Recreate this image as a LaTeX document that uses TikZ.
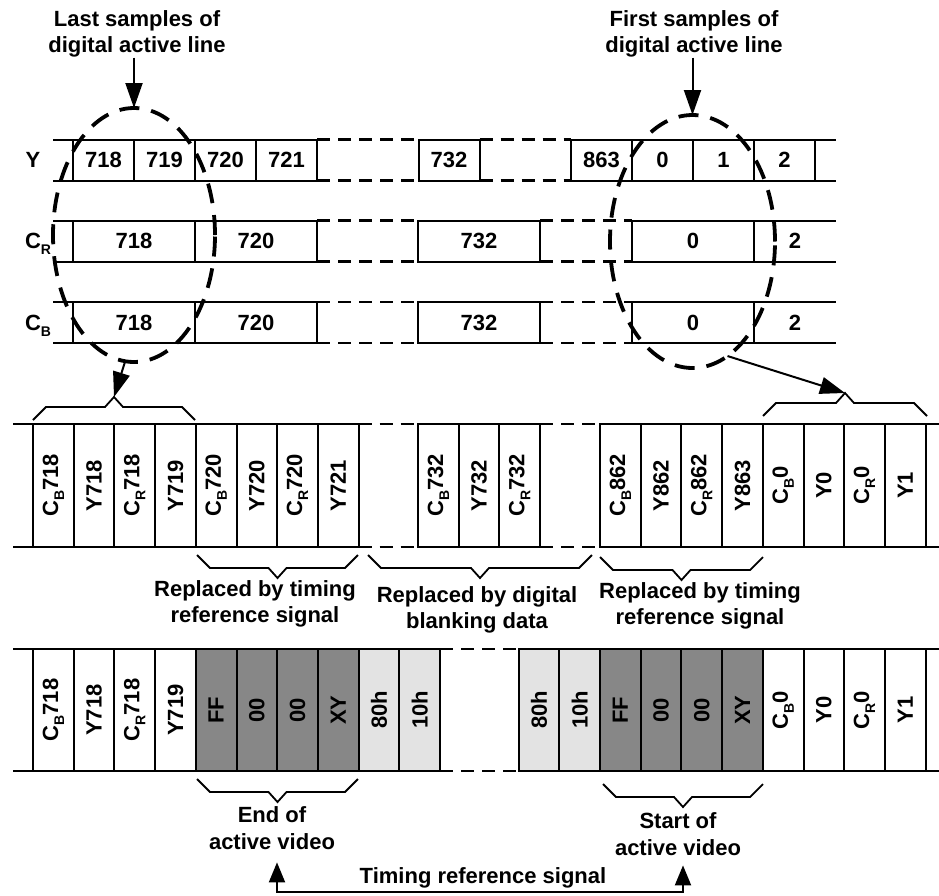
\documentclass[tikz,border=0pt]{standalone}
\usepackage{graphicx}
\usepackage{fontspec}
\setmainfont{Liberation Sans}
\usetikzlibrary{arrows.meta,shapes.geometric}

\definecolor{trsgray}{gray}{0.53}
\definecolor{blankgray}{gray}{0.89}

% lowered index letter (C_B, C_R) and upright-reading cell text
\newcommand{\lowix}[1]{\raisebox{-6pt}{\fontsize{14}{14}\selectfont #1}}
\newcommand{\vlab}[1]{\rotatebox{90}{#1}}

% angular brace: x1, x2, y of the ends, direction (1 down, -1 up), tip name
\newcommand{\rowbrace}[5]{%
  \draw[brace] (#1,#3) -- ({#1+13},{#3+13*(#4)}) -- ({(#1+#2)/2-9},{#3+13*(#4)})
    -- ({(#1+#2)/2},{#3+23*(#4)}) coordinate (#5) -- ({(#1+#2)/2+9},{#3+13*(#4)})
    -- ({#2-13},{#3+13*(#4)}) -- (#2,#3);}

\begin{document}
\begin{tikzpicture}[x=1pt, y=-1pt,
    every node/.style={font=\fontsize{22}{26.6}\selectfont\bfseries, inner sep=0pt, outer sep=0pt},
    cell/.style={draw, line width=2pt, minimum width=61pt, minimum height=41pt},
    widecell/.style={cell, minimum width=122pt},
    vcell/.style={draw, line width=2pt, minimum width=40.7pt, minimum height=123pt},
    scell/.style={vcell, minimum height=122pt},
    trs/.style={scell, fill=trsgray},
    blank/.style={scell, fill=blankgray},
    rail/.style={line width=2pt},
    gap/.style={line width=2.8pt, dash pattern=on 13pt off 8pt},
    ring/.style={ellipse, draw, line width=3.8pt, dash pattern=on 20pt off 12pt},
    lbl/.style={align=center},
    arr/.style={line width=2pt, -{Triangle[length=25pt,width=17pt]}},
    brace/.style={line width=1.8pt}]
  \useasboundingbox (0,0) rectangle (939,895);

  \coordinate (topL) at (53,0);
  \coordinate (topR) at (836,0);
  \coordinate (lowL) at (13,0);
  \coordinate (lowR) at (939,0);

  % Y samples
  \node (ylbl) at (33,160) {Y};
  \node[cell] (y718) at (103.5,160) {718};
  \node[cell] (y719) at (164.5,160) {719};
  \node[cell] (y720) at (225.5,160) {720};
  \node[cell] (y721) at (286.5,160) {721};
  \node[cell] (y732) at (449,160) {732};
  \node[cell] (y863) at (601.5,160) {863};
  \node[cell] (y0) at (662.5,160) {0};
  \node[cell] (y1) at (723.5,160) {1};
  \node[cell] (y2) at (784.5,160) {2};

  % C_R samples
  \node (crlbl) at (38,244) {C\lowix{R}};
  \node[widecell] (cr718) at (134,241) {718};
  \node[widecell] (cr720) at (256,241) {720};
  \node[widecell] (cr732) at (479,241) {732};
  \node[widecell] (cr0) at (693,241) {0};
  \node (cr2) at (795,241) {2};

  % C_B samples
  \node (cblbl) at (38,325.5) {C\lowix{B}};
  \node[widecell] (cb718) at (134,322.5) {718};
  \node[widecell] (cb720) at (256,322.5) {720};
  \node[widecell] (cb732) at (479,322.5) {732};
  \node[widecell] (cb0) at (693,322.5) {0};
  \node (cb2) at (795,322.5) {2};

  \draw[rail] (y718.north west) -- (y718.north west -| topL) (y718.south west) -- (y718.south west -| topL)
              (y2.north east) -- (y2.north east -| topR) (y2.south east) -- (y2.south east -| topR);
  \draw[rail] (cr718.north west) -- (cr718.north west -| topL) (cr718.south west) -- (cr718.south west -| topL)
              (cr0.north east) -- (cr0.north east -| topR) (cr0.south east) -- (cr0.south east -| topR);
  \draw[rail] (cb718.north west) -- (cb718.north west -| topL) (cb718.south west) -- (cb718.south west -| topL)
              (cb0.north east) -- (cb0.north east -| topR) (cb0.south east) -- (cb0.south east -| topR);
  \draw[gap] (y721.north east) -- (y732.north west) (y721.south east) -- (y732.south west)
             (y732.north east) -- (y863.north west) (y732.south east) -- (y863.south west);
  \draw[gap] (cr720.north east) -- (cr732.north west) (cr720.south east) -- (cr732.south west)
             (cr732.north east) -- (cr0.north west) (cr732.south east) -- (cr0.south west);
  \draw[gap] (cb720.north east) -- (cb732.north west) (cb720.south east) -- (cb732.south west)
             (cb732.north east) -- (cb0.north west) (cb732.south east) -- (cb0.south west);

  % multiplexed stream
  \node[vcell] (mcb718) at (53.35,485.5) {\vlab{C\lowix{B}718}};
  \node[vcell] (my718) at (94.05,485.5) {\vlab{Y718}};
  \node[vcell] (mcr718) at (134.75,485.5) {\vlab{C\lowix{R}718}};
  \node[vcell] (my719) at (175.45,485.5) {\vlab{Y719}};
  \node[vcell] (mcb720) at (216.15,485.5) {\vlab{C\lowix{B}720}};
  \node[vcell] (my720) at (256.85,485.5) {\vlab{Y720}};
  \node[vcell] (mcr720) at (297.55,485.5) {\vlab{C\lowix{R}720}};
  \node[vcell] (my721) at (338.25,485.5) {\vlab{Y721}};
  \node[vcell] (mcb732) at (438.35,485.5) {\vlab{C\lowix{B}732}};
  \node[vcell] (my732) at (479.05,485.5) {\vlab{Y732}};
  \node[vcell] (mcr732) at (519.75,485.5) {\vlab{C\lowix{R}732}};
  \node[vcell] (mcb862) at (620.35,485.5) {\vlab{C\lowix{B}862}};
  \node[vcell] (my862) at (661.05,485.5) {\vlab{Y862}};
  \node[vcell] (mcr862) at (701.75,485.5) {\vlab{C\lowix{R}862}};
  \node[vcell] (my863) at (742.45,485.5) {\vlab{Y863}};
  \node[vcell] (mcb0) at (783.15,485.5) {\vlab{C\lowix{B}0}};
  \node[vcell] (my0) at (823.85,485.5) {\vlab{Y0}};
  \node[vcell] (mcr0) at (864.55,485.5) {\vlab{C\lowix{R}0}};
  \node[vcell] (my1) at (905.25,485.5) {\vlab{Y1}};

  \draw[rail] (mcb718.north west) -- (mcb718.north west -| lowL) (mcb718.south west) -- (mcb718.south west -| lowL)
              (my1.north east) -- (my1.north east -| lowR) (my1.south east) -- (my1.south east -| lowR);
  \draw[gap] (my721.north east) -- (mcb732.north west) (my721.south east) -- (mcb732.south west)
             (mcr732.north east) -- (mcb862.north west) (mcr732.south east) -- (mcb862.south west);

  % stream with timing reference and blanking words
  \node[scell] (scb718) at (53.35,710) {\vlab{C\lowix{B}718}};
  \node[scell] (sy718) at (94.05,710) {\vlab{Y718}};
  \node[scell] (scr718) at (134.75,710) {\vlab{C\lowix{R}718}};
  \node[scell] (sy719) at (175.45,710) {\vlab{Y719}};
  \node[trs] (sffa) at (216.15,710) {\vlab{FF}};
  \node[trs] (szza) at (256.85,710) {\vlab{00}};
  \node[trs] (szzb) at (297.55,710) {\vlab{00}};
  \node[trs] (sxya) at (338.25,710) {\vlab{XY}};
  \node[blank] (seia) at (378.95,710) {\vlab{80h}};
  \node[blank] (stna) at (419.65,710) {\vlab{10h}};
  \node[blank] (seib) at (538.95,710) {\vlab{80h}};
  \node[blank] (stnb) at (579.65,710) {\vlab{10h}};
  \node[trs] (sffb) at (620.35,710) {\vlab{FF}};
  \node[trs] (szzc) at (661.05,710) {\vlab{00}};
  \node[trs] (szzd) at (701.75,710) {\vlab{00}};
  \node[trs] (sxyb) at (742.45,710) {\vlab{XY}};
  \node[scell] (scb0) at (783.15,710) {\vlab{C\lowix{B}0}};
  \node[scell] (sy0) at (823.85,710) {\vlab{Y0}};
  \node[scell] (scr0) at (864.55,710) {\vlab{C\lowix{R}0}};
  \node[scell] (sy1) at (905.25,710) {\vlab{Y1}};

  \draw[rail] (scb718.north west) -- (scb718.north west -| lowL) (scb718.south west) -- (scb718.south west -| lowL)
              (sy1.north east) -- (sy1.north east -| lowR) (sy1.south east) -- (sy1.south east -| lowR);
  \draw[gap] (stna.north east) -- (seib.north west) (stna.south east) -- (seib.south west);

  % selections
  \node[ring, minimum width=162pt, minimum height=254pt] (lastring) at (134,235) {};
  \node[ring, minimum width=165pt, minimum height=253pt] (firstring) at (692.5,241.5) {};

  \rowbrace{33}{195}{420}{-1}{lasttip}
  \rowbrace{763}{927}{416}{-1}{firsttip}
  \rowbrace{197}{358}{555}{1}{trsatip}
  \rowbrace{368}{592}{555}{1}{blanktip}
  \rowbrace{600}{763}{557}{1}{trsbtip}
  \rowbrace{197}{358}{779}{1}{eavtip}
  \rowbrace{603}{763}{784}{1}{savtip}

  % labels
  \node[lbl] (lastlbl) at (137,34) {Last samples of\\digital active line};
  \node[lbl] (firstlbl) at (694,34) {First samples of\\digital active line};
  \node[lbl] (trsalbl) at (255,604) {Replaced by timing\\reference signal};
  \node[lbl] (blanklbl) at (477,610) {Replaced by digital\\blanking data};
  \node[lbl] (trsblbl) at (700,606) {Replaced by timing\\reference signal};
  \node[lbl] (eavlbl) at (272,828) {End of\\active video};
  \node[lbl] (savlbl) at (678,834) {Start of\\active video};
  \node (trslbl) at (483,878) {Timing reference signal};

  \draw[arr] (lastlbl.south -| lastring.north) -- (lastring.north);
  \draw[arr] (firstlbl.south -| firstring.north) -- (firstring.north);
  \draw[arr] (lastring.266) -- (lasttip);
  \draw[arr] (firstring.287) -- (firsttip);
  \coordinate (trsfoot) at (480,892);
  \draw[line width=2pt, {Triangle[length=20pt,width=16pt]}-{Triangle[length=20pt,width=16pt]}]
    ([xshift=5pt,yshift=-13pt]eavlbl.south) |- (trsfoot) -| ([xshift=5pt,yshift=-10pt]savlbl.south);
\end{tikzpicture}
\end{document}
